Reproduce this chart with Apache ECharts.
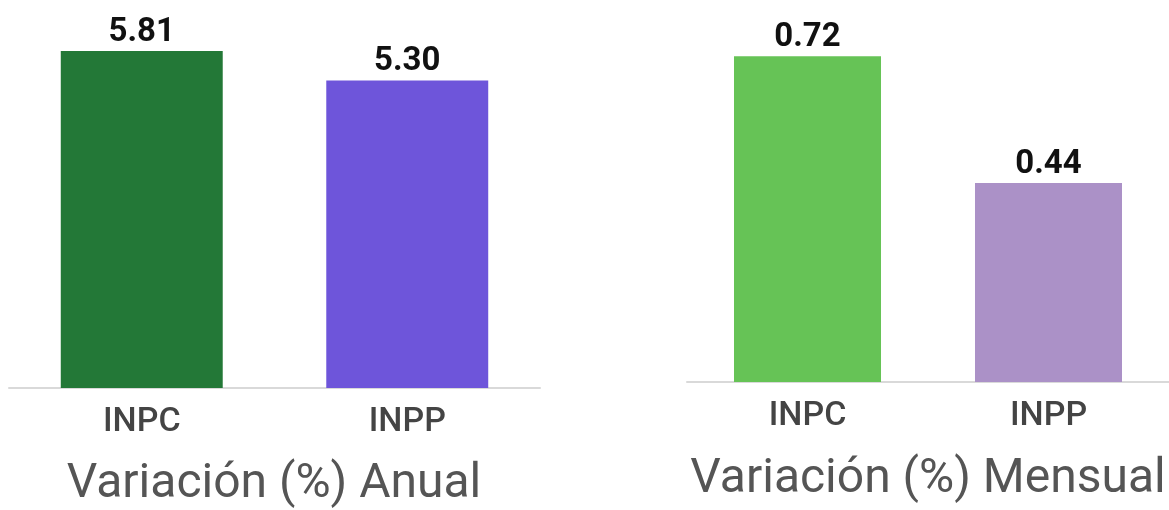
<!DOCTYPE html>
<html>
<head>
<meta charset="utf-8">
<script src="https://cdn.jsdelivr.net/npm/echarts@6/dist/echarts.min.js"></script>
<style>
html,body{margin:0;padding:0;background:#fff;}
#c{width:1169px;height:510px;}
</style>
</head>
<body>
<div id="c"></div>
<script>
const categories = ['INPC', 'INPP'];
const annualValues = [5.81, 5.30];
const monthlyValues = [0.72, 0.44];
const annualColors = ['#237837', '#6e55da'];
const monthlyColors = ['#66c356', '#ab91c7'];
const annualTitle = 'Variación (%) Anual';
const monthlyTitle = 'Variación (%) Mensual';

const chart = echarts.init(document.getElementById('c'), null, {renderer: 'canvas'});
const FONT = 'Roboto, "Noto Sans", sans-serif';

function xAxisFor(gridIndex) {
  return {
    type: 'category', gridIndex: gridIndex, data: categories,
    axisLine: {show: true, lineStyle: {color: '#d9d9d9', width: 2}},
    axisTick: {show: false},
    axisLabel: {color: '#444', fontSize: 34, fontWeight: 500, fontFamily: FONT, margin: 17}
  };
}
function yAxisFor(gridIndex, max) {
  return {
    type: 'value', gridIndex: gridIndex, min: 0, max: max,
    show: false, splitLine: {show: false}
  };
}
function seriesFor(idx, values, colors) {
  return {
    type: 'bar', xAxisIndex: idx, yAxisIndex: idx, barWidth: '61%',
    data: values.map((v, i) => ({value: v, itemStyle: {color: colors[i]}})),
    label: {
      show: true, position: 'top', distance: 2,
      formatter: p => p.value.toFixed(2),
      color: '#111', fontSize: 33, fontWeight: 'bold', fontFamily: FONT
    },
    animation: false
  };
}

chart.setOption({
  animation: false,
  grid: [
    {left: 9, width: 531, top: 40, height: 348},
    {left: 687, width: 482, top: 20, height: 362}
  ],
  xAxis: [xAxisFor(0), xAxisFor(1)],
  yAxis: [yAxisFor(0, 6), yAxisFor(1, 0.8)],
  series: [seriesFor(0, annualValues, annualColors), seriesFor(1, monthlyValues, monthlyColors)],
  graphic: [
    {type: 'text', x: 274, y: 485, style: {text: annualTitle, fill: '#555', font: '48px ' + FONT, align: 'center', verticalAlign: 'middle'}},
    {type: 'text', x: 928, y: 480, style: {text: monthlyTitle, fill: '#555', font: '48px ' + FONT, align: 'center', verticalAlign: 'middle'}}
  ]
});
</script>
</body>
</html>
